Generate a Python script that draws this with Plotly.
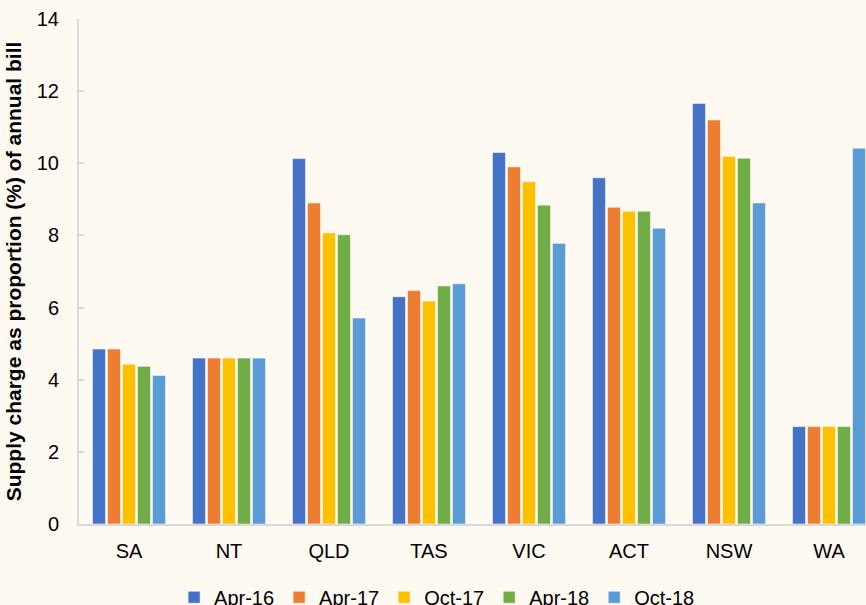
import plotly.graph_objects as go

# Supply charge as a share (%) of the annual electricity bill, by state/territory
states = ["SA", "NT", "QLD", "TAS", "VIC", "ACT", "NSW", "WA"]

apr_16 = [4.85, 4.6, 10.13, 6.3, 10.3, 9.6, 11.66, 2.7]
apr_17 = [4.85, 4.6, 8.9, 6.47, 9.9, 8.78, 11.2, 2.7]
oct_17 = [4.43, 4.6, 8.07, 6.18, 9.49, 8.67, 10.19, 2.7]
apr_18 = [4.37, 4.6, 8.02, 6.6, 8.84, 8.67, 10.14, 2.7]
oct_18 = [4.12, 4.6, 5.71, 6.66, 7.78, 8.2, 8.9, 10.42]

series = [
    ("Apr-16", apr_16, "#4472C4"),
    ("Apr-17", apr_17, "#ED7D31"),
    ("Oct-17", oct_17, "#FFC000"),
    ("Apr-18", apr_18, "#70AD47"),
    ("Oct-18", oct_18, "#5B9BD5"),
]

FONT = "Liberation Sans, Arial, Helvetica, sans-serif"
BG = "#FEF9F1"

fig = go.Figure()
for name, values, color in series:
    fig.add_trace(go.Bar(
        x=states, y=values, name=name,
        marker=dict(color=color, line=dict(color="rgba(255,255,255,0.55)", width=1)),
    ))

fig.update_layout(
    width=866, height=605,
    paper_bgcolor=BG, plot_bgcolor=BG,
    barmode="group", bargap=0.25, bargroupgap=0.13,
    margin=dict(l=79, r=0, t=19, b=81, autoexpand=False),
    font=dict(family=FONT, size=20, color="#000000"),
    showlegend=True,
    legend=dict(
        orientation="h", x=0.455, xanchor="center", y=-0.145, yanchor="middle",
        font=dict(family=FONT, size=20, color="#000000"),
        bgcolor="rgba(0,0,0,0)", itemwidth=30,
        traceorder="normal",
    ),
)

fig.update_xaxes(
    range=[-0.5, 7.37], showline=True, linecolor="#D9D9D9", linewidth=2,
    showgrid=False, ticks="", zeroline=False,
    tickfont=dict(family=FONT, size=20, color="#000000"),
    ticklabelstandoff=8,
)
fig.update_yaxes(
    range=[0, 14], dtick=2, showline=True, linecolor="#D9D9D9", linewidth=2,
    showgrid=False, zeroline=False,
    ticks="inside", ticklen=5, tickcolor="#D9D9D9", tickwidth=1.5,
    tickfont=dict(family=FONT, size=20, color="#000000"),
    ticklabelstandoff=14,
    title=dict(text="<b>Supply charge as proportion (%) of annual bill</b>",
               font=dict(family=FONT, size=21, color="#000000"), standoff=9),
)

fig.write_html("out.html")
